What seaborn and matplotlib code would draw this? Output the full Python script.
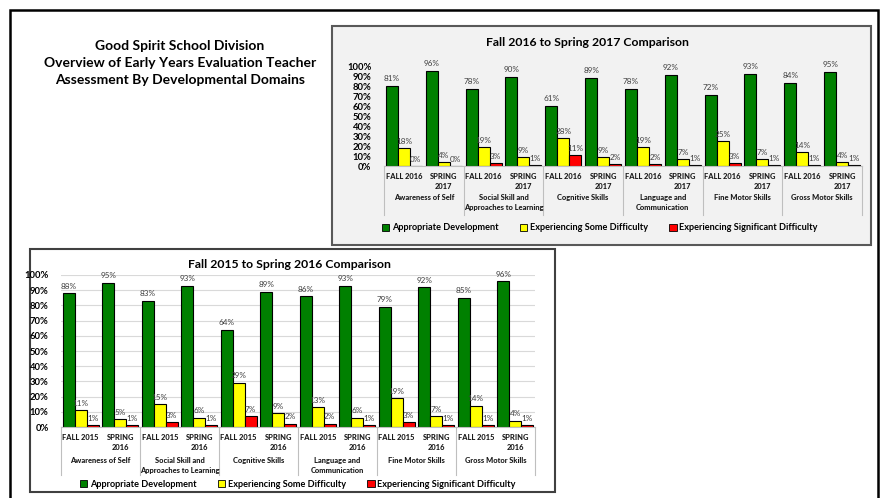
import matplotlib.pyplot as plt
from matplotlib.patches import Rectangle
from matplotlib.transforms import blended_transform_factory
import pandas as pd
import seaborn as sns

domains = ['Awareness of Self', 'Social Skill and\nApproaches to Learning', 'Cognitive Skills',
           'Language and\nCommunication', 'Fine Motor Skills', 'Gross Motor Skills']
statuses = ['Appropriate Development', 'Experiencing Some Difficulty',
            'Experiencing Significant Difficulty']
colors = ['#008000', '#ffff00', '#ff0000']

# Fall 2016 -> Spring 2017 (one value per domain)
f16_appropriate = [81, 78, 61, 78, 72, 84]
f16_some = [18, 19, 28, 19, 25, 14]
f16_significant = [0, 3, 11, 2, 3, 1]
s17_appropriate = [96, 90, 89, 92, 93, 95]
s17_some = [4, 9, 9, 7, 7, 4]
s17_significant = [0, 1, 2, 1, 1, 1]

# Fall 2015 -> Spring 2016
f15_appropriate = [88, 83, 64, 86, 79, 85]
f15_some = [11, 15, 29, 13, 19, 14]
f15_significant = [1, 3, 7, 2, 3, 1]
s16_appropriate = [95, 93, 89, 93, 92, 96]
s16_some = [5, 6, 9, 6, 7, 4]
s16_significant = [1, 1, 2, 1, 1, 1]

plt.rcParams['font.family'] = ['Lato', 'DejaVu Sans']

W, H = 882, 498
fx = lambda x: x / W
fy = lambda y: 1 - y / H


def make_df(fall_label, spring_label, fall, spring):
    rows = []
    for i, d in enumerate(domains):
        for period, vals in ((fall_label, fall), (spring_label, spring)):
            for s, v in zip(statuses, vals):
                rows.append({'slot': d + '|' + period, 'period': period,
                             'status': s, 'value': v[i]})
    return pd.DataFrame(rows)


def draw(ax, df, periods, grid, sep_depth, group_off):
    sns.barplot(data=df, x='slot', y='value', hue='status', hue_order=statuses,
                palette=colors, saturation=1, edgecolor='black', linewidth=0.8,
                width=0.9, ax=ax, legend=False)
    for c in ax.containers:
        ax.bar_label(c, labels=[f'{b.get_height():.0f}%' for b in c], padding=2.5,
                     fontsize=5.9, color='#404040', clip_on=False)
    ax.set_ylim(0, 100)
    ax.set_xlim(-0.5, 11.5)
    ax.set_yticks(range(0, 101, 10))
    ax.set_yticklabels([f'{t}%' for t in range(0, 101, 10)])
    ax.set_xticks(range(12))
    ax.set_xticklabels(periods * 6)
    for t in ax.get_yticklabels():
        t.set_fontsize(6.8)
        t.set_fontweight('bold')
    for t in ax.get_xticklabels():
        t.set_fontsize(5.4)
        t.set_fontweight('black')
        t.set_color('#1a1a1a')
        t.set_linespacing(1.5)
    ax.tick_params(axis='both', length=0)
    ax.tick_params(axis='x', pad=5)
    ax.tick_params(axis='y', pad=9)
    ax.set_xlabel('')
    ax.set_ylabel('')
    for s in ['top', 'right', 'left']:
        ax.spines[s].set_visible(False)
    ax.spines['bottom'].set_color('#bfbfbf')
    ax.set_facecolor('none')
    if grid:
        ax.yaxis.grid(True, color='#d9d9d9', lw=0.8)
        ax.set_axisbelow(True)
    tr = blended_transform_factory(ax.transData, ax.transAxes)
    for k in range(7):
        ax.plot([2 * k - 0.5, 2 * k - 0.5], [0, -sep_depth], transform=tr,
                color='#bfbfbf', lw=0.8, clip_on=False)
    for k, d in enumerate(domains):
        ax.annotate(d, xy=(2 * k + 0.5, 0), xycoords=tr, xytext=(0, -group_off),
                    textcoords='offset points', ha='center', va='top',
                    fontsize=5.4, fontweight='black', color='#1a1a1a', linespacing=1.5)


fig = plt.figure(figsize=(W / 100, H / 100), dpi=100)
fig.patch.set_facecolor('white')

# outer frame and chart panels (behind the axes)
fig.patches.append(Rectangle((fx(10), -0.02), fx(878) - fx(10), fy(10) + 0.02,
                             transform=fig.transFigure, fill=False, ec='black', lw=1.8,
                             zorder=-10))
fig.patches.append(Rectangle((fx(332), fy(245)), fx(871) - fx(332), fy(26) - fy(245),
                             transform=fig.transFigure, fc='#f2f2f2', ec='#595959', lw=1.5,
                             zorder=-10))
fig.patches.append(Rectangle((fx(30), fy(492)), fx(555) - fx(30), fy(249) - fy(492),
                             transform=fig.transFigure, fc='white', ec='#404040', lw=1.5,
                             zorder=-10))

fig.text(fx(180), fy(63), 'Good Spirit School Division\nOverview of Early Years Evaluation Teacher\n'
         'Assessment By Developmental Domains', ha='center', va='center',
         fontsize=10, fontweight='bold', linespacing=1.45)

# top-right chart
ax1 = fig.add_axes([fx(384), fy(166), fx(862) - fx(384), fy(67) - fy(166)])
df1 = make_df('FALL 2016', 'SPRING\n2017',
              (f16_appropriate, f16_some, f16_significant),
              (s17_appropriate, s17_some, s17_significant))
draw(ax1, df1, ['FALL 2016', 'SPRING\n2017'], grid=False, sep_depth=49 / 99, group_off=20)
fig.text(fx(587), fy(43), 'Fall 2016 to Spring 2017 Comparison', ha='center', va='center',
         fontsize=8.8, fontweight='bold')

# bottom-left chart
ax2 = fig.add_axes([fx(61), fy(427), fx(535) - fx(61), fy(275) - fy(427)])
df2 = make_df('FALL 2015', 'SPRING\n2016',
              (f15_appropriate, f15_some, f15_significant),
              (s16_appropriate, s16_some, s16_significant))
draw(ax2, df2, ['FALL 2015', 'SPRING\n2016'], grid=True, sep_depth=48 / 152, group_off=21.5)
fig.text(fx(289), fy(265), 'Fall 2015 to Spring 2016 Comparison', ha='center', va='center',
         fontsize=8.8, fontweight='bold')

handles = [Rectangle((0, 0), 1, 1, fc=c, ec='black', lw=0.6) for c in colors]
for cx, cy in ((600, 228), (298, 484)):
    fig.legend(handles, statuses, loc='center', bbox_to_anchor=(fx(cx), fy(cy)), ncol=3,
               frameon=False, handlelength=0.8, handleheight=0.8, handletextpad=0.3,
               columnspacing=2.3, prop={'size': 6.6, 'weight': 'bold'})

fig.savefig('out.png', dpi=100)
